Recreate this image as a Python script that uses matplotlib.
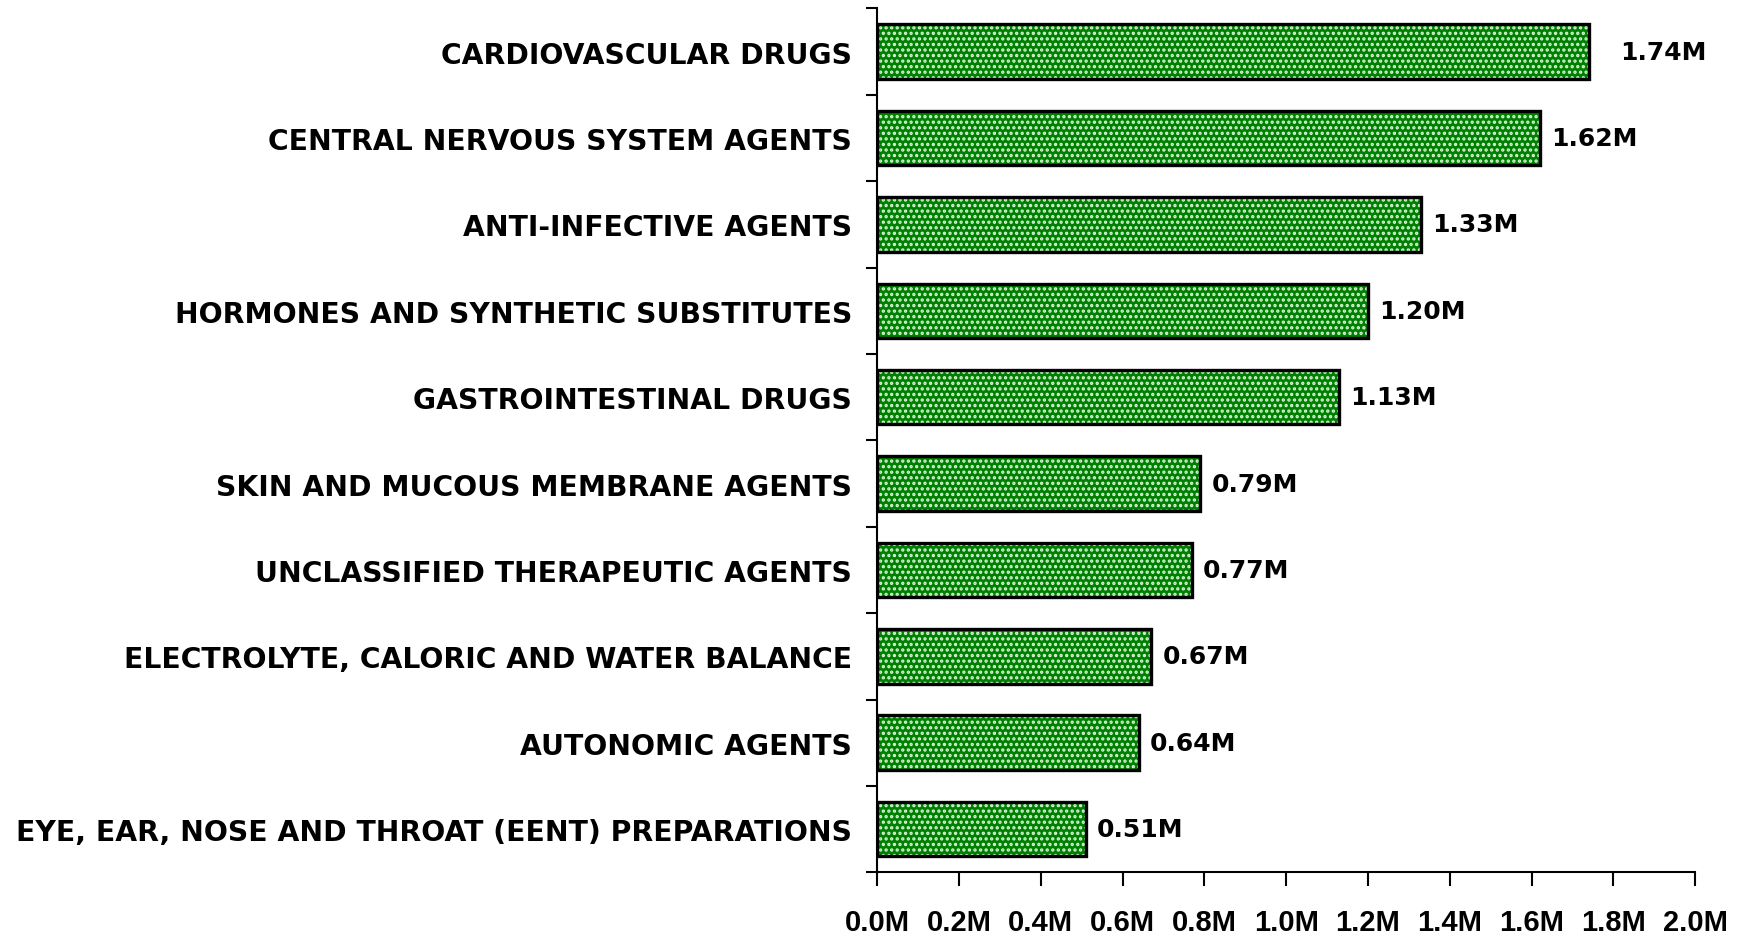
import numpy as np
import matplotlib.pyplot as plt

plt.rcParams['font.family'] = 'Liberation Sans'
plt.rcParams['font.weight'] = 'bold'
plt.rcParams['hatch.linewidth'] = 1.6

categories = [
    "CARDIOVASCULAR DRUGS",
    "CENTRAL NERVOUS SYSTEM AGENTS",
    "ANTI-INFECTIVE AGENTS",
    "HORMONES AND SYNTHETIC SUBSTITUTES",
    "GASTROINTESTINAL DRUGS",
    "SKIN AND MUCOUS MEMBRANE AGENTS",
    "UNCLASSIFIED THERAPEUTIC AGENTS",
    "ELECTROLYTE, CALORIC AND WATER BALANCE",
    "AUTONOMIC AGENTS",
    "EYE, EAR, NOSE AND THROAT (EENT) PREPARATIONS",
]
values = [1.74, 1.62, 1.33, 1.20, 1.13, 0.79, 0.77, 0.67, 0.64, 0.51]
xticks = [0.0, 0.2, 0.4, 0.6, 0.8, 1.0, 1.2, 1.4, 1.6, 1.8, 2.0]

fig = plt.figure(figsize=(17.44, 9.37), dpi=100)
ax = fig.add_axes([0.503, 0.068, 0.469, 0.922])

y = np.arange(len(categories))
# patterned fill first, then a plain black outline on top
ax.barh(y, values, height=0.63, color='#008000', edgecolor='#d8f5d8',
        hatch='...', linewidth=0)
ax.barh(y, values, height=0.63, fill=False, edgecolor='black', linewidth=2.4)

for i, v in enumerate(values):
    off = 0.076 if i == 0 else 0.027
    ax.text(v + off, i, f"{v:.2f}M", va='center', ha='left', fontsize=18,
            fontweight='bold', family='DejaVu Sans')

ax.set_xlim(0, 2.0)
ax.set_ylim(len(categories) - 0.5, -0.5)
ax.set_xticks(xticks)
ax.set_xticklabels([f"{t:.1f}M" for t in xticks], fontsize=21, fontweight='bold')
ax.tick_params(axis='x', direction='out', length=10, width=1.5, pad=16)

# boundary ticks on y, labels centred on the bars
ax.set_yticks(np.arange(len(categories) + 1) - 0.5)
ax.set_yticklabels([])
ax.tick_params(axis='y', which='major', direction='out', length=8, width=1.5)
ax.set_yticks(y, minor=True)
ax.set_yticklabels(categories, minor=True, fontsize=20.3, fontweight='bold',
                   family='DejaVu Sans')
ax.tick_params(axis='y', which='minor', length=0, pad=18)

for s in ['top', 'right']:
    ax.spines[s].set_visible(False)
for s in ['left', 'bottom']:
    ax.spines[s].set_linewidth(1.5)

fig.savefig("out.png", dpi=100)
